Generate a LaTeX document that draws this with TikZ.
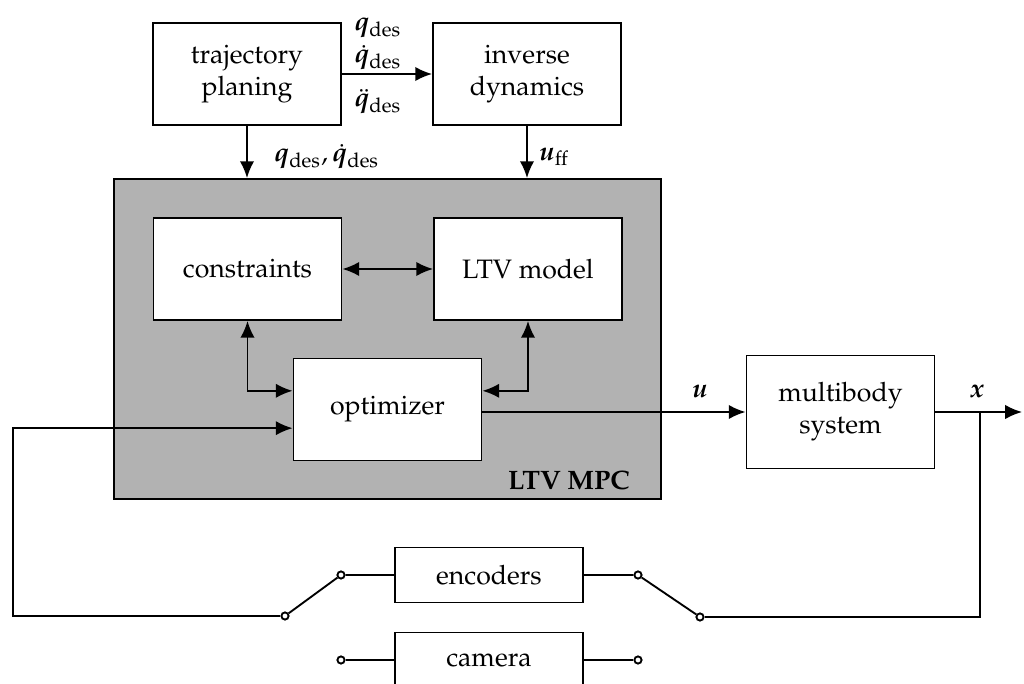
\documentclass[tikz,border=0pt]{standalone}
\usepackage[T1]{fontenc}
\usepackage{mathpazo}
\usepackage{bm}
\usetikzlibrary{arrows.meta}

\begin{document}
\begin{tikzpicture}[x=0.375pt,y=-0.375pt,line width=0.7pt,
    >={Latex[length=6.3pt,width=5.4pt]},
    block/.style={draw,fill=white,minimum width=70.5pt,minimum height=38.25pt,align=center,inner sep=0},
    lbl/.style={inner sep=0.5pt},
    sw/.style={circle,draw,fill=white,inner sep=0,minimum size=2.7pt}]
  \useasboundingbox (0,0) rectangle (1024,684);
  \clip (0,0) rectangle (1024,684);
  \node [draw,fill=black!30,minimum width=205.1pt,minimum height=120pt] (mpc) at (387.5,339) {};
  \node [lbl,font=\bfseries,anchor=east] (mpclbl) at (632,480) {LTV MPC};
  \node [block] (traj) at (247,74) {trajectory\\planing};
  \node [block] (inv) at (527,74) {inverse\\dynamics};
  \node [block] (cons) at (247.5,269) {constraints};
  \node [block] (ltv) at (528,269) {LTV model};
  \node [block] (opt) at (387.5,409.5) {optimizer};
  \node [block,minimum height=42.4pt] (mbs) at (840.5,412) {multibody\\system};
  \node [block,minimum height=20.6pt] (enc) at (489,575) {encoders};
  \node [block,minimum height=20.6pt] (cam) at (489,660) {camera};
  \foreach \n/\x/\y in {s1a/285/616,s1b/341/575,s2a/638/575,s2b/700/617,c1/341/660,c2/638/660}{
    \node [sw] (\n) at (\x,\y) {};
  }
  \node [lbl] (lq) at (378,28) {$\bm q_{\mathrm{des}}$};
  \node [lbl] (lqd) at (378,58) {$\dot{\bm q}_{\mathrm{des}}$};
  \node [lbl] (lqdd) at (378,102) {$\ddot{\bm q}_{\mathrm{des}}$};
  \node [lbl,anchor=west] (lqq) at (272,157) {$\bm q_{\mathrm{des}}, \dot{\bm q}_{\mathrm{des}}$};
  \node [lbl,anchor=west] (luff) at (537,157) {$\bm u_{\mathrm{ff}}$};
  \node [lbl] (lu) at (700,392) {$\bm u$};
  \node [lbl] (lx) at (977,392) {$\bm x$};
  \coordinate (out) at (1022,412);
  \coordinate (br) at (980,412);
  \coordinate (fb) at (13,616);
  \draw[->] (traj) -- (inv);
  \draw[->] (traj) -- (traj |- mpc.north);
  \draw[->] (inv) -- (inv |- mpc.north);
  \draw[<->] (cons) -- (ltv);
  \draw[<->] (cons) |- ([yshift=7pt]opt.west);
  \draw[<->] (ltv) |- ([yshift=7pt]opt.east);
  \draw[->] (opt.east |- mbs.west) -- (mbs);
  \draw[->] (mbs) -- (out);
  \draw (br) |- (s2b);
  \draw (s2b) -- (s2a) (s2a) -- (enc) (enc) -- (s1b) (s1b) -- (s1a);
  \draw[->] (s1a) -- (fb) |- ([yshift=-7pt]opt.west);
  \draw (c1) -- (cam) (cam) -- (c2);
\end{tikzpicture}
\end{document}
